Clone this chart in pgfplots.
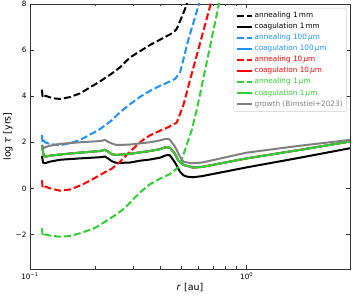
\documentclass[border=0pt]{standalone}
\usepackage{fontspec}
\setmainfont{DejaVu Sans}
\usepackage{pgfplots}
\pgfplotsset{compat=1.18}
\usepackage{pgfplotstable}
\definecolor{mblue}{RGB}{30,144,255}
\definecolor{mred}{RGB}{255,0,0}
\definecolor{mgreen}{RGB}{50,205,50}
\definecolor{mgray}{RGB}{128,128,128}

\pgfplotstableread{
r t
0.11360 4.28
0.11421 4.00
0.11543 4.08
0.11729 4.02
0.12370 3.95
0.13044 3.90
0.13754 3.88
0.15293 3.96
0.17013 4.12
0.18924 4.38
0.21040 4.64
0.23826 4.98
0.26020 5.25
0.28935 5.68
0.32178 5.95
0.35796 6.22
0.39807 6.45
0.45706 6.75
0.47540 6.92
0.49236 7.25
0.51921 7.78
0.52869 8.00
0.54756 8.40
}\annA

\pgfplotstableread{
r t
0.11360 2.32
0.11421 1.98
0.11543 2.08
0.11729 2.00
0.12370 1.92
0.13754 1.87
0.15293 1.96
0.17013 2.10
0.18924 2.33
0.21040 2.57
0.23826 2.95
0.26020 3.30
0.28935 3.65
0.32178 3.97
0.35796 4.23
0.39807 4.45
0.43340 4.60
0.46690 4.75
0.49236 5.02
0.50993 5.58
0.53775 6.45
0.60249 8.00
0.62202 8.45
}\annB

\pgfplotstableread{
r t
0.11360 0.35
0.11421 0.08
0.11543 0.15
0.11729 0.08
0.12370 0.00
0.13754 -0.10
0.15293 -0.05
0.17013 0.12
0.18924 0.33
0.20315 0.50
0.22188 0.70
0.23826 0.85
0.26020 1.15
0.28935 1.60
0.33220 2.10
0.35796 2.30
0.39807 2.50
0.43340 2.65
0.47540 2.85
0.48201 3.00
0.50993 3.60
0.54756 4.70
0.68230 8.00
0.69918 8.35
}\annC

\pgfplotstableread{
r t
0.11360 -1.73
0.11421 -2.00
0.11543 -1.92
0.11729 -2.00
0.12370 -2.05
0.13754 -2.10
0.15293 -2.07
0.17013 -1.95
0.18924 -1.80
0.20315 -1.68
0.22188 -1.45
0.25124 -1.12
0.27439 -0.85
0.28935 -0.62
0.32178 -0.18
0.35796 0.18
0.39807 0.42
0.44270 0.62
0.47540 0.85
0.49236 1.02
0.50993 1.45
0.55754 2.53
0.58796 3.40
0.74480 8.00
0.76896 8.60
}\annD

\pgfplotstableread{
r t
0.11360 1.40
0.11482 1.12
0.11729 1.09
0.12370 1.16
0.13754 1.24
0.17013 1.30
0.21040 1.35
0.22188 1.38
0.22908 1.30
0.23826 1.18
0.25124 1.10
0.28935 1.12
0.32178 1.20
0.35796 1.25
0.39807 1.33
0.41978 1.42
0.43340 1.45
0.44270 1.43
0.46690 1.12
0.49236 0.72
0.50993 0.57
0.52869 0.51
0.56529 0.48
0.62202 0.53
1.00000 0.91
1.76198 1.33
2.99730 1.74
}\coA

\pgfplotstableread{
r t
0.11360 1.88
0.11543 1.45
0.11729 1.37
0.12370 1.42
0.14200 1.48
0.17013 1.55
0.21040 1.62
0.22188 1.67
0.22908 1.60
0.23826 1.48
0.25124 1.45
0.28935 1.50
0.32178 1.56
0.35796 1.62
0.39807 1.70
0.41978 1.78
0.43340 1.78
0.44270 1.75
0.46690 1.50
0.48201 1.23
0.50993 1.02
0.54756 0.94
0.56529 0.90
0.62202 0.93
1.00000 1.30
1.76198 1.67
2.99730 2.03
}\coD

\pgfplotstableread{
r t
0.11360 1.85
0.11605 1.75
0.11854 1.80
0.12370 1.85
0.13754 1.93
0.17013 2.00
0.21040 2.05
0.22188 2.10
0.22908 2.02
0.23826 1.95
0.25124 1.88
0.28935 1.90
0.32178 1.95
0.35796 2.00
0.39807 2.08
0.41978 2.14
0.43340 2.15
0.44270 2.10
0.46690 1.81
0.49236 1.37
0.50993 1.16
0.54756 1.10
0.56529 1.09
0.62202 1.12
1.00000 1.55
1.76198 1.85
2.99730 2.10
}\grw

\begin{document}
\begin{tikzpicture}
\useasboundingbox (-30pt,-28pt) rectangle (324pt,269pt);
\begin{axis}[
  scale only axis, width=320pt, height=265pt,
  xmode=log, xmin=0.1, xmax=2.9973, ymin=-3.5, ymax=8,
  xtick={0.1,1}, xticklabels={10\textsuperscript{−1},10\textsuperscript{0}},
  ytick={-2,0,2,4,6,8}, yticklabels={−2,0,2,4,6,8},
  tick label style={font=\fontsize{7.3}{8}\selectfont},
  label style={font=\fontsize{9.5}{11}\selectfont},
  xlabel={\textit{r} [au]}, ylabel={log \textit{τ} [yrs]},
  xlabel style={at={(axis description cs:0.5,-0.0717)}, anchor=center},
  ylabel style={at={(axis description cs:-0.06875,0.5)}, anchor=center},
  axis line style={black!80, line width=0.9pt},
  major tick length=4pt, minor tick length=2.5pt,
  every tick/.style={black!80, line width=0.7pt},
  tick align=inside,
  legend style={at={(axis description cs:0.99,0.985)}, anchor=north east,
    draw=black!20, rounded corners=2pt, fill=white,
    font=\fontsize{7.3}{8.5}\selectfont, inner sep=2pt},
  legend cell align=left,
  legend image code/.code={\draw[#1] (0pt,0pt) -- (15pt,0pt);},
  every axis plot/.append style={line width=2pt, line join=round},
]
\addplot[black, dash pattern=on 7pt off 3pt] table {\annA};
\addlegendentry{annealing 1\,mm}
\addplot[black] table {\coA};
\addlegendentry{coagulation 1\,mm}
\addplot[mblue, dash pattern=on 7pt off 3pt] table {\annB};
\addlegendentry{\textcolor{mblue}{annealing 100\,\textit{μ}m}}
\addplot[mblue] table {\coD};
\addlegendentry{\textcolor{mblue}{coagulation 100\,\textit{μ}m}}
\addplot[mred, dash pattern=on 7pt off 3pt] table {\annC};
\addlegendentry{\textcolor{mred}{annealing 10\,\textit{μ}m}}
\addplot[mred] table {\coD};
\addlegendentry{\textcolor{mred}{coagulation 10\,\textit{μ}m}}
\addplot[mgreen, dash pattern=on 7pt off 3pt] table {\annD};
\addlegendentry{\textcolor{mgreen}{annealing 1\,\textit{μ}m}}
\addplot[mgreen] table {\coD};
\addlegendentry{\textcolor{mgreen}{coagulation 1\,\textit{μ}m}}
\addplot[mgray] table {\grw};
\addlegendentry{\textcolor{mgray}{growth (Birnstiel+2023)}}
\end{axis}
\end{tikzpicture}
\end{document}
